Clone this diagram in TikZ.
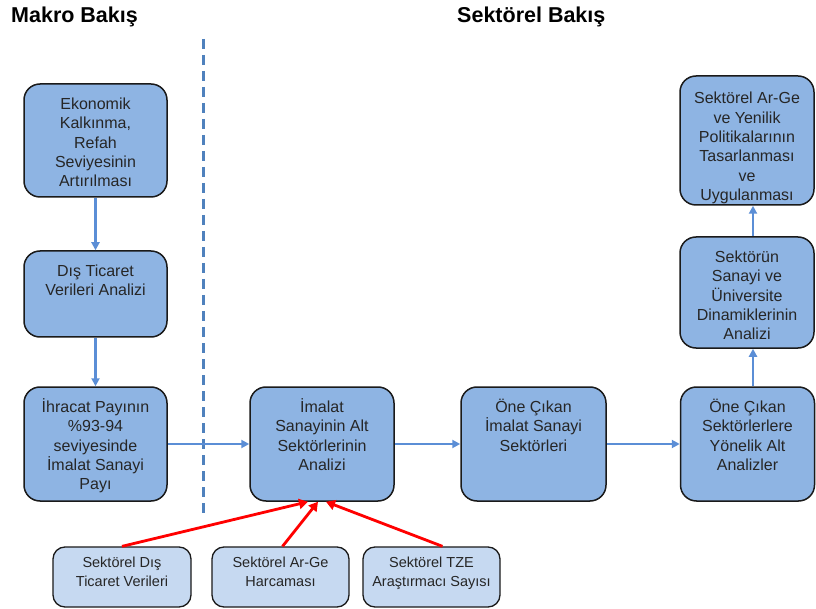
\documentclass[tikz,border=0pt]{standalone}
\usepackage{fontspec}
\setmainfont{Liberation Sans}
\usetikzlibrary{arrows.meta}
\definecolor{mainfill}{HTML}{8EB4E3}
\definecolor{subfill}{HTML}{C6D9F1}
\definecolor{bordercol}{HTML}{1A1A1A}
\definecolor{bluearrow}{HTML}{5B8ED6}
\definecolor{dashcol}{HTML}{4F81BD}
\definecolor{txtcol}{HTML}{262626}
\newcommand\myfirstline{\rule{0pt}{16pt}}
\newcommand\mysubfirst{\rule{0pt}{14pt}}
\begin{document}
\begin{tikzpicture}[x=1pt,y=-1pt,
  mainbox/.style={draw=bordercol, line width=1.5pt, fill=mainfill, rounded corners=16pt, inner sep=0pt},
  subbox/.style={draw=bordercol, line width=1.3pt, fill=subfill, rounded corners=12pt, inner sep=0pt, minimum width=137pt, minimum height=60pt},
  txt/.style={anchor=north, align=center, inner sep=0pt, text=txtcol, font=\fontsize{16}{19.3}\selectfont},
  subtxt/.style={anchor=north, align=center, inner sep=0pt, text=txtcol, font=\fontsize{14.5}{19}\selectfont},
  title/.style={anchor=base west, inner sep=0pt, font=\fontsize{21.5}{24}\selectfont\bfseries},
  bluearr/.style={draw=bluearrow, line width=2.4pt, -{Triangle[length=8pt,width=8pt]}},
  redarr/.style={draw=red, line width=2.8pt, -{Triangle[length=9pt,width=10pt]}}
]
\useasboundingbox (0,0) rectangle (816,609);
\fill[white] (0,0) rectangle (816,609);

% titles
\node[title] (tmakro) at (11,23) {Makro Bakış};
\node[title] (tsektor) at (457,23) {Sektörel Bakış};

% dashed divider
\coordinate (dtop) at (203,39);
\coordinate (dbot) at (203,517);
\draw[dashcol, line width=3pt, dash pattern=on 10pt off 6pt] (dtop) -- (dbot);

% main boxes
\node[mainbox, minimum width=143pt, minimum height=113pt] (e1) at (95.5,140.5) {};
\node[mainbox, minimum width=143pt, minimum height=86pt] (e2) at (95.5,294) {};
\node[mainbox, minimum width=143pt, minimum height=114pt] (e3) at (95.5,444) {};
\node[mainbox, minimum width=144pt, minimum height=114pt] (im) at (322,444) {};
\node[mainbox, minimum width=145pt, minimum height=114pt] (on1) at (533.5,444) {};
\node[mainbox, minimum width=134pt, minimum height=114pt] (on2) at (747.5,444) {};
\node[mainbox, minimum width=134pt, minimum height=111pt] (se) at (747,292.5) {};
\node[mainbox, minimum width=134pt, minimum height=129pt] (po) at (747,140.5) {};

% sub boxes
\node[subbox, minimum width=138pt] (b1) at (122,577) {};
\node[subbox] (b2) at (280.5,577) {};
\node[subbox] (b3) at (431.5,577) {};

% texts
\node[txt] (e1t) at ([yshift=-10pt]e1.north) {\myfirstline Ekonomik\\Kalkınma,\\Refah\\Seviyesinin\\Artırılması};
\node[txt] (e2t) at ([yshift=-10pt]e2.north) {\myfirstline Dış Ticaret\\Verileri Analizi};
\node[txt] (e3t) at ([yshift=-10pt]e3.north) {\myfirstline İhracat Payının\\\%93-94\\seviyesinde\\İmalat Sanayi\\Payı};
\node[txt] (imt) at ([yshift=-10pt]im.north) {\myfirstline İmalat\\Sanayinin Alt\\Sektörlerinin\\Analizi};
\node[txt] (on1t) at ([yshift=-10pt]on1.north) {\myfirstline Öne Çıkan\\İmalat Sanayi\\Sektörleri};
\node[txt] (on2t) at ([yshift=-10pt]on2.north) {\myfirstline Öne Çıkan\\Sektörlerlere\\Yönelik Alt\\Analizler};
\node[txt] (set) at ([yshift=-10pt]se.north) {\myfirstline Sektörün\\Sanayi ve\\Üniversite\\Dinamiklerinin\\Analizi};
\node[txt] (pot) at ([yshift=-12.5pt]po.north) {\myfirstline Sektörel Ar-Ge\\ve Yenilik\\Politikalarının\\Tasarlanması\\ve\\Uygulanması};
\node[subtxt] (b1t) at ([yshift=-7pt]b1.north) {\mysubfirst Sektörel Dış\\Ticaret Verileri};
\node[subtxt] (b2t) at ([yshift=-7pt]b2.north) {\mysubfirst Sektörel Ar-Ge\\Harcaması};
\node[subtxt] (b3t) at ([yshift=-7pt]b3.north) {\mysubfirst Sektörel TZE\\Araştırmacı Sayısı};

% blue arrows
\draw[bluearr] (e1.south) -- (e2.north);
\draw[bluearr] (e2.south) -- (e3.north);
\draw[bluearr] (e3.east) -- (im.west);
\draw[bluearr] (im.east) -- (on1.west);
\draw[bluearr] (on1.east) -- (on2.west);
\draw[bluearr] ([xshift=5.5pt]on2.north) -- ([xshift=6pt]se.south);
\draw[bluearr] ([xshift=6pt]se.north) -- ([xshift=6pt]po.south);

% red arrows
\draw[redarr] (b1.north) -- ([xshift=-14pt]im.south);
\draw[redarr] ([xshift=2pt]b2.north) -- ([xshift=-4pt]im.south);
\draw[redarr] ([xshift=11pt]b3.north) -- ([xshift=4pt]im.south);
\end{tikzpicture}
\end{document}
